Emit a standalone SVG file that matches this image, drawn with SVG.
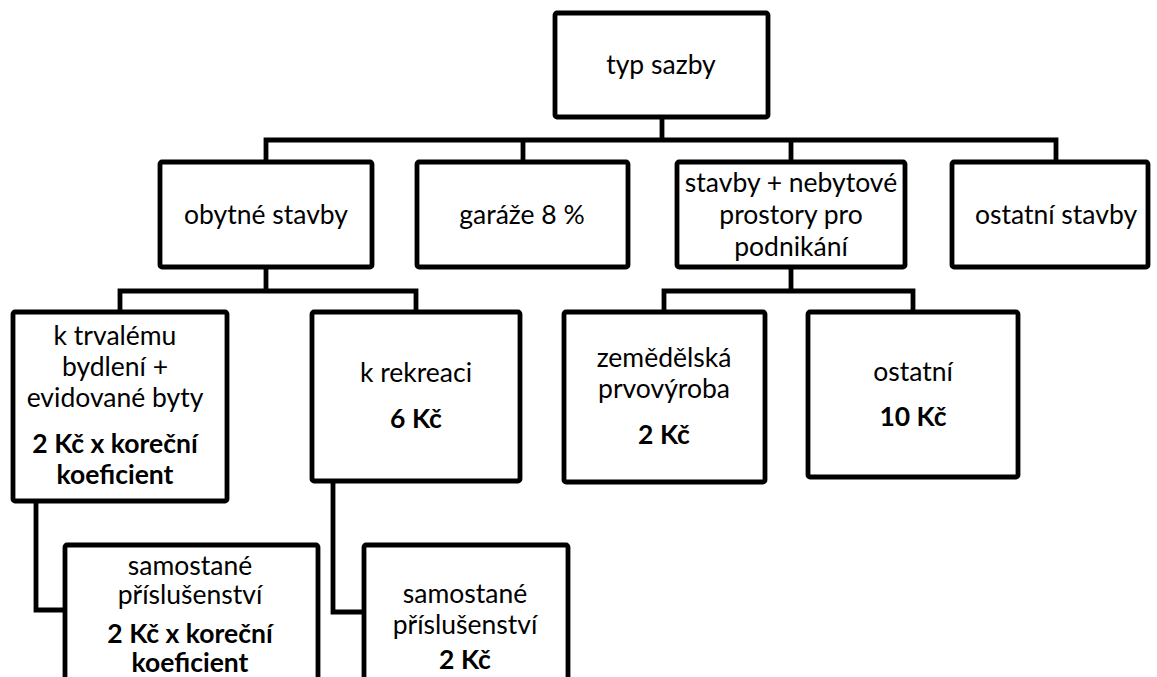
<svg xmlns="http://www.w3.org/2000/svg" width="1157" height="677" viewBox="0 0 1157 677">
  <style>
    .box { fill: #ffffff; stroke: #000000; stroke-width: 4.8; stroke-linejoin: round; }
    .link { fill: none; stroke: #000000; stroke-width: 4.8; stroke-linejoin: miter; stroke-linecap: square; }
    text { font-family: "Lato", "Liberation Sans", sans-serif; font-size: 26.5px; fill: #000000; text-anchor: middle; }
    .b { font-weight: bold; }
  </style>
  <rect width="1157" height="677" fill="#ffffff"/>

  <!-- connectors -->
  <g id="connectors">
    <path class="link" d="M662 117 V140 M266 140 H1056 M266 140 V162 M523 140 V162 M791 140 V162 M1056 140 V162"/>
    <path class="link" d="M266 267 V291 M120 291 H416 M120 291 V312 M416 291 V312"/>
    <path class="link" d="M791 267 V291 M664 291 H913 M664 291 V312 M913 291 V312"/>
    <path class="link" d="M36 501 V610 H65"/>
    <path class="link" d="M333 481 V612 H364"/>
  </g>

  <!-- root -->
  <g id="typ-sazby">
    <rect class="box" x="555" y="13" width="213" height="104" rx="2"/>
    <text x="661" y="74">typ sazby</text>
  </g>

  <!-- second level -->
  <g id="obytne-stavby">
    <rect class="box" x="160" y="162" width="212" height="105" rx="2"/>
    <text x="266" y="224">obytné stavby</text>
  </g>
  <g id="garaze">
    <rect class="box" x="417" y="162" width="211" height="105" rx="2"/>
    <text x="522" y="224">garáže 8 %</text>
  </g>
  <g id="stavby-podnikani">
    <rect class="box" x="677" y="162" width="228" height="105" rx="2"/>
    <text x="791" y="192">stavby + nebytové</text>
    <text x="791" y="224">prostory pro</text>
    <text x="791" y="256">podnikání</text>
  </g>
  <g id="ostatni-stavby">
    <rect class="box" x="952" y="162" width="196" height="105" rx="2"/>
    <text x="1056" y="224">ostatní stavby</text>
  </g>

  <!-- third level -->
  <g id="trvale-bydleni">
    <rect class="box" x="13" y="312" width="214" height="189" rx="2"/>
    <text x="115" y="345">k trvalému</text>
    <text x="115" y="376">bydlení +</text>
    <text x="115" y="407">evidované byty</text>
    <text class="b" x="115" y="453">2 Kč x koreční</text>
    <text class="b" x="115" y="484">koeficient</text>
  </g>
  <g id="rekreace">
    <rect class="box" x="312" y="312" width="208" height="169" rx="2"/>
    <text x="416" y="382">k rekreaci</text>
    <text class="b" x="416" y="428">6 Kč</text>
  </g>
  <g id="zemedelska">
    <rect class="box" x="564" y="312" width="201" height="170" rx="2"/>
    <text x="664" y="367">zemědělská</text>
    <text x="664" y="398">prvovýroba</text>
    <text class="b" x="664" y="444">2 Kč</text>
  </g>
  <g id="ostatni">
    <rect class="box" x="808" y="312" width="210" height="165" rx="2"/>
    <text x="913" y="381">ostatní</text>
    <text class="b" x="913" y="426">10 Kč</text>
  </g>

  <!-- fourth level -->
  <g id="prislusenstvi-bydleni">
    <rect class="box" x="65" y="545" width="253" height="150" rx="2"/>
    <text x="190" y="575">samostané</text>
    <text x="190" y="604">příslušenství</text>
    <text class="b" x="190" y="643">2 Kč x koreční</text>
    <text class="b" x="190" y="672">koeficient</text>
  </g>
  <g id="prislusenstvi-rekreace">
    <rect class="box" x="364" y="545" width="204" height="150" rx="2"/>
    <text x="465" y="603">samostané</text>
    <text x="465" y="634">příslušenství</text>
    <text class="b" x="465" y="669">2 Kč</text>
  </g>
</svg>
